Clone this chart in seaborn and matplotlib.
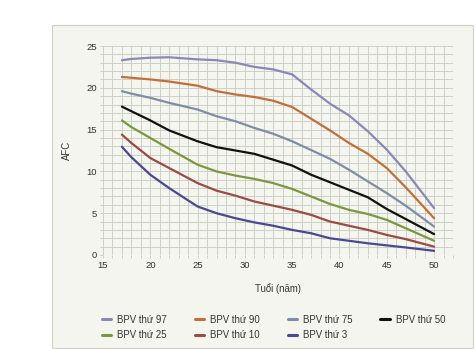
import matplotlib
matplotlib.use("Agg")
import matplotlib.pyplot as plt
from matplotlib.patches import Rectangle
from matplotlib.ticker import MultipleLocator
import pandas as pd
import seaborn as sns

# Age (years) at which each percentile curve is sampled
ages = [17, 18, 20, 22, 25, 27, 29, 31, 33, 35, 37, 39, 41, 43, 45, 47, 50]

# Antral follicle count (AFC) percentile curves
bpv97 = [23.3, 23.45, 23.6, 23.65, 23.4, 23.3, 23.0, 22.5, 22.2, 21.6, 19.8, 18.1, 16.7, 14.8, 12.6, 10.0, 5.6]
bpv90 = [21.3, 21.2, 21.0, 20.75, 20.25, 19.6, 19.2, 18.9, 18.45, 17.7, 16.3, 14.9, 13.4, 12.1, 10.4, 8.1, 4.4]
bpv75 = [19.6, 19.3, 18.8, 18.2, 17.4, 16.6, 16.0, 15.2, 14.5, 13.6, 12.55, 11.5, 10.2, 8.8, 7.4, 5.9, 3.4]
bpv50 = [17.75, 17.2, 16.1, 14.9, 13.6, 12.9, 12.5, 12.1, 11.4, 10.7, 9.6, 8.7, 7.8, 6.9, 5.5, 4.3, 2.5]
bpv25 = [16.1, 15.3, 14.0, 12.7, 10.8, 10.0, 9.5, 9.1, 8.6, 7.9, 7.0, 6.1, 5.4, 4.9, 4.2, 3.2, 1.7]
bpv10 = [14.4, 13.4, 11.6, 10.4, 8.6, 7.7, 7.1, 6.4, 5.9, 5.4, 4.8, 4.0, 3.5, 3.0, 2.4, 1.9, 1.0]
bpv3 = [12.95, 11.7, 9.6, 8.0, 5.8, 5.0, 4.4, 3.9, 3.5, 3.0, 2.6, 2.0, 1.7, 1.4, 1.15, 0.9, 0.5]

series_names = ["BPV thứ 97", "BPV thứ 90", "BPV thứ 75", "BPV thứ 50",
                "BPV thứ 25", "BPV thứ 10", "BPV thứ 3"]
series_values = [bpv97, bpv90, bpv75, bpv50, bpv25, bpv10, bpv3]
series_colors = ["#8b87b6", "#c1703a", "#7f8ea4", "#111111",
                 "#7b983f", "#9a4b46", "#4b4790"]

x_ticks = [15, 20, 25, 30, 35, 40, 45, 50]
y_ticks = [0, 5, 10, 15, 20, 25]

df = pd.concat(
    [pd.DataFrame({"Tuổi": ages, "AFC": vals, "BPV": name})
     for name, vals in zip(series_names, series_values)],
    ignore_index=True,
)

sns.set_theme(style="white")
plt.rcParams["font.family"] = ["Liberation Sans", "DejaVu Sans"]

panel_bg = "#f4f5ef"
grid_c = "#cdd0c6"
text_c = "#333333"

fig = plt.figure(figsize=(4.76, 3.49), dpi=100)
fig.patch.set_facecolor("white")
panel = Rectangle((52 / 476, 1 / 349), 421 / 476, 323 / 349,
                  transform=fig.transFigure, facecolor=panel_bg,
                  edgecolor="#cfd0c8", linewidth=0.8, zorder=-10)
fig.patches.append(panel)

ax = fig.add_axes([103 / 476, 1 - 255 / 349, 350 / 476, 209 / 349])
ax.set_zorder(5)
ax.set_facecolor(panel_bg)

sns.lineplot(data=df, x="Tuổi", y="AFC", hue="BPV", hue_order=series_names,
             palette=dict(zip(series_names, series_colors)),
             linewidth=1.6, ax=ax, sort=False)
for line in ax.get_lines():
    line.set_solid_joinstyle("round")

ax.set_xlim(15, 52)
ax.set_ylim(0, 25)
ax.set_xticks(x_ticks)
ax.set_yticks(y_ticks)
ax.xaxis.set_minor_locator(MultipleLocator(1))
ax.yaxis.set_minor_locator(MultipleLocator(1))
ax.grid(True, which="both", color=grid_c, linewidth=0.7)
ax.set_axisbelow(True)
for s in ax.spines.values():
    s.set_visible(False)
ax.tick_params(which="both", length=2.5, color=grid_c, width=0.7,
               labelsize=6.8, labelcolor=text_c, pad=2)
ax.tick_params(axis="both", which="both", bottom=True, left=True)

ax.set_xlabel("Tuổi (năm)", fontsize=6.9, color=text_c, labelpad=9)
ax.set_ylabel("AFC", fontsize=6.9, color=text_c, labelpad=10)

handles, labels = ax.get_legend_handles_labels()
ax.get_legend().remove()
lookup = dict(zip(labels, handles))
order = ["BPV thứ 97", "BPV thứ 25", "BPV thứ 90", "BPV thứ 10",
         "BPV thứ 75", "BPV thứ 3", "BPV thứ 50"]
for h in handles:
    h.set_linewidth(2.2)
fig.legend([lookup[k] for k in order], order, ncol=4, frameon=False,
           loc="upper left", bbox_to_anchor=(97 / 476, 1 - 310 / 349),
           fontsize=6.9, handlelength=1.0, handletextpad=0.6,
           columnspacing=2.9, borderpad=0, labelspacing=0.55,
           labelcolor=text_c)

fig.savefig("out.png", dpi=100, facecolor="white")
